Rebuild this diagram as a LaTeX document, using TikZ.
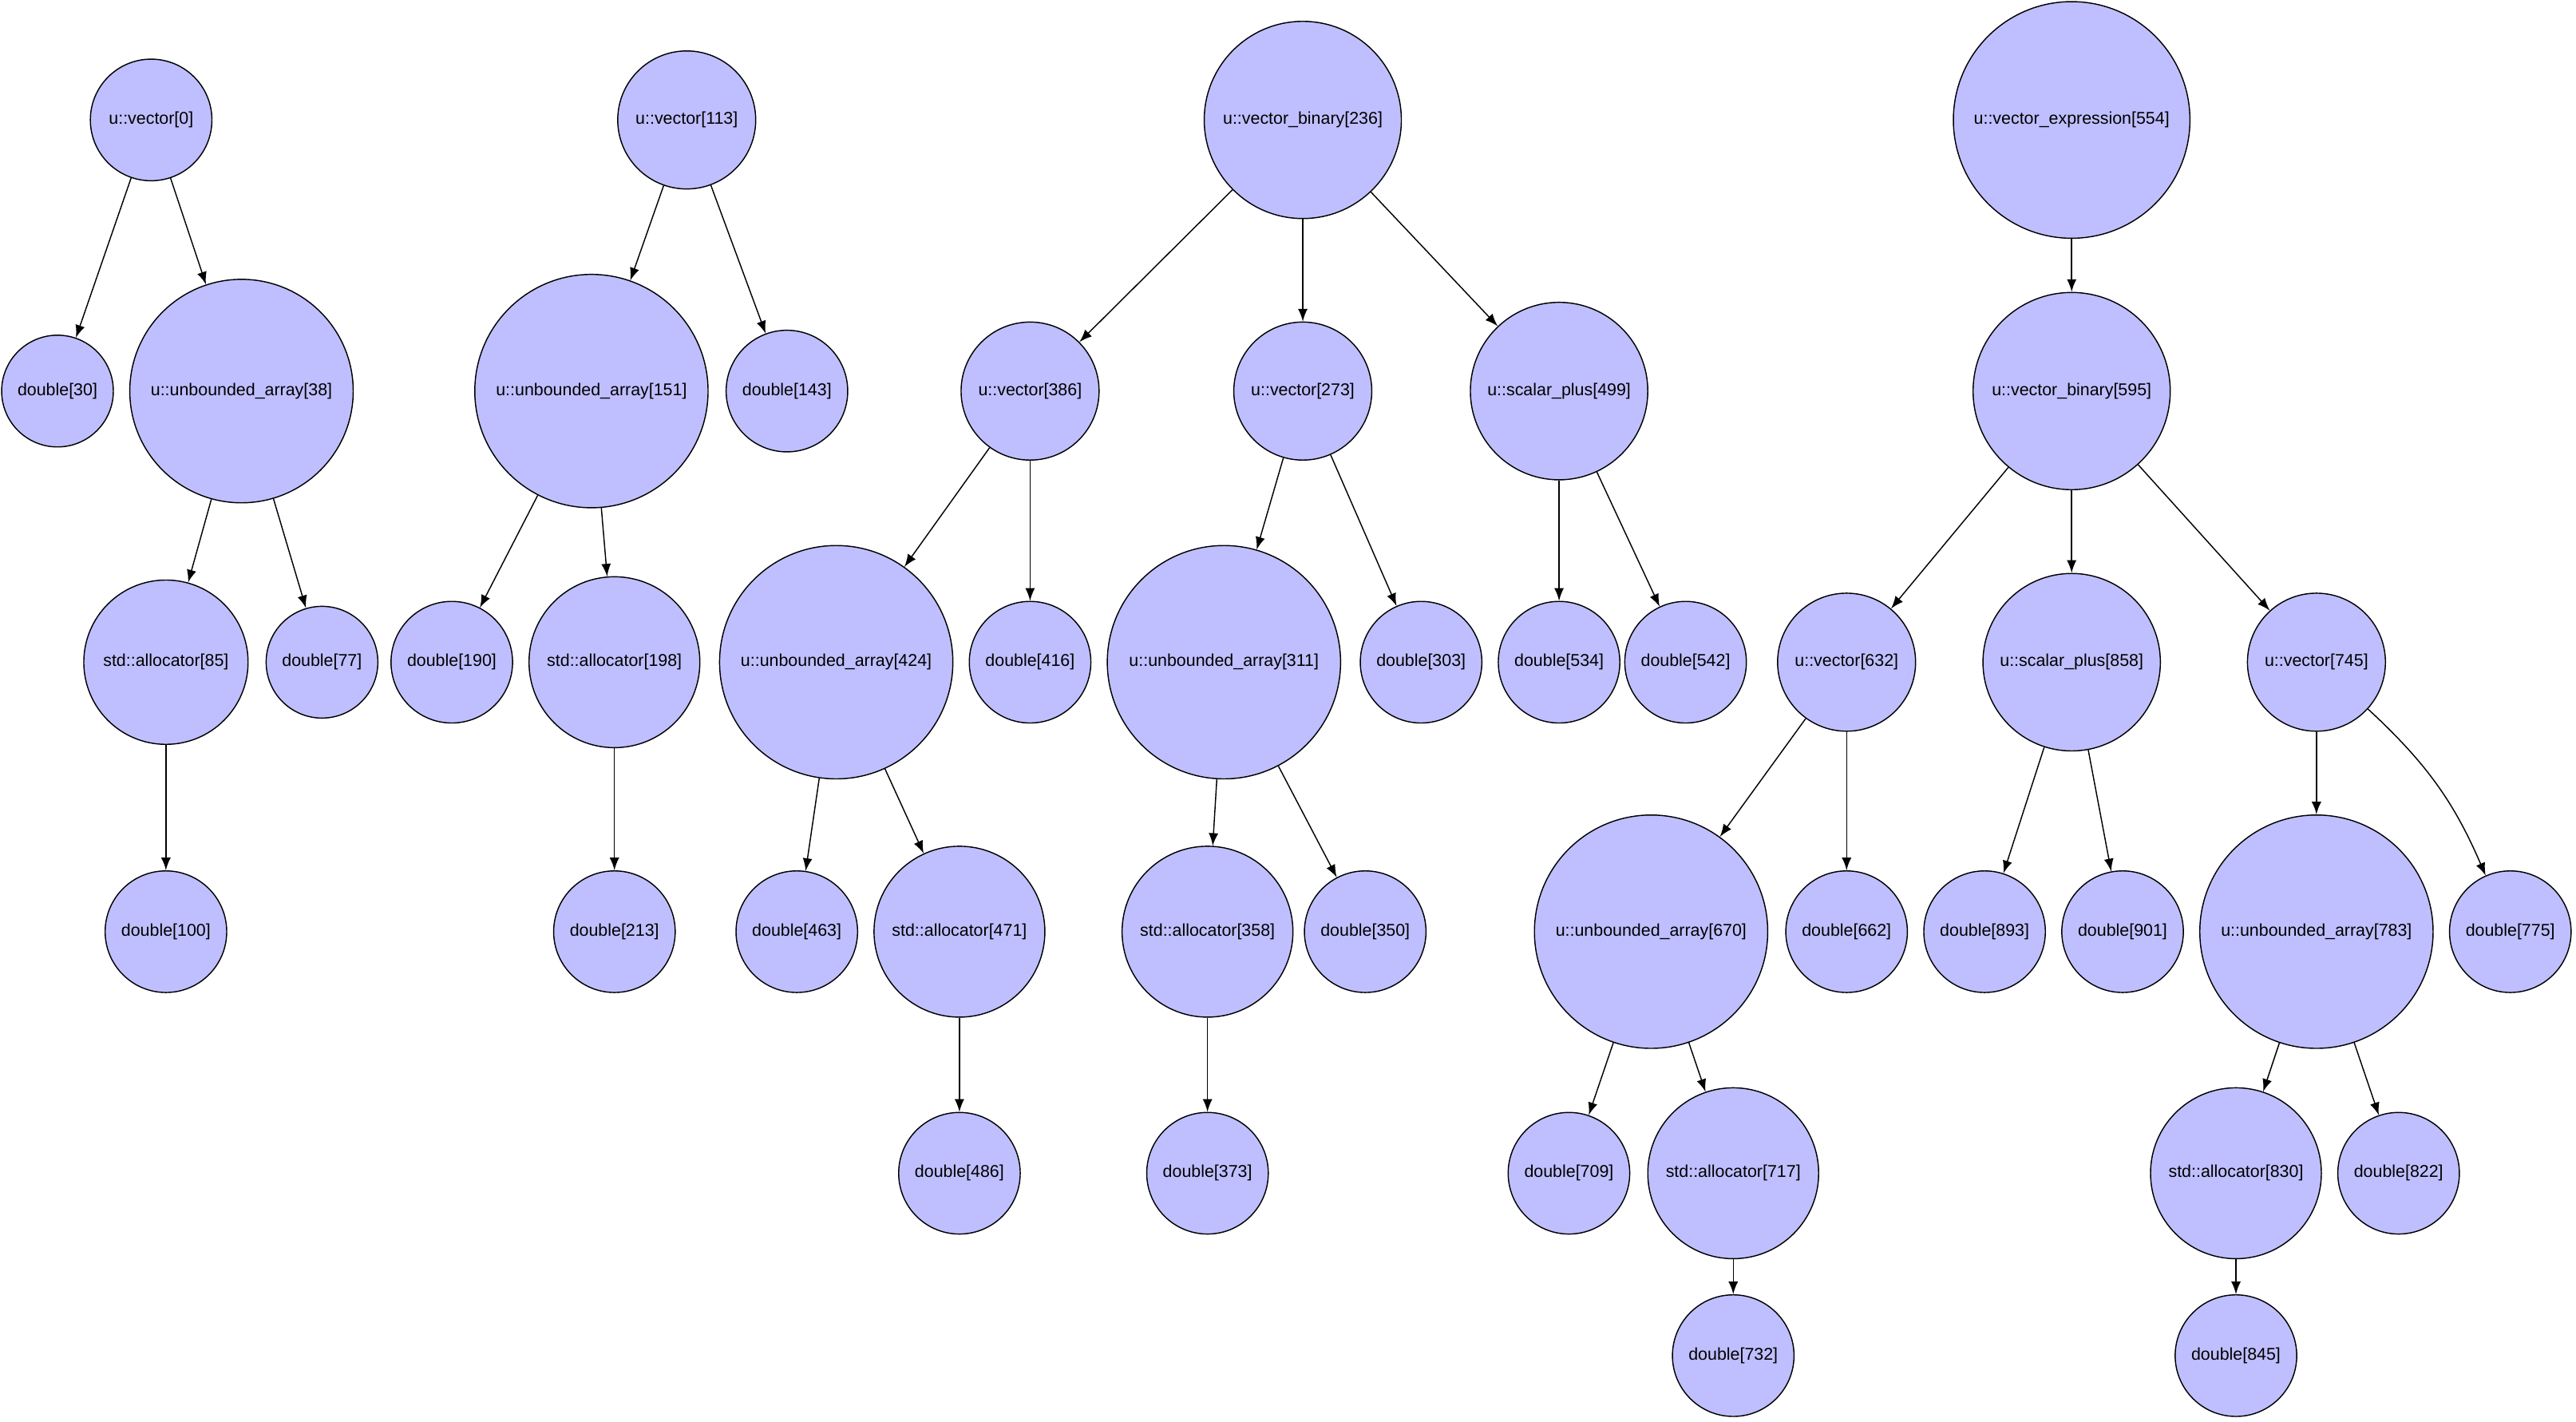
\documentclass[tikz,border=0pt]{standalone}
\usepackage{fontspec}
\setmainfont{Liberation Sans}
\begin{document}
\begin{tikzpicture}[x=0.5pt,y=-0.5pt,
  nd/.style={circle,draw=black,fill=nodefill,line width=0.35pt,inner sep=0pt,font=\fontsize{5.2}{6}\selectfont},
  ed/.style={-latex,line width=0.35pt}]
\definecolor{nodefill}{HTML}{BFBFFF}
\useasboundingbox (0,0) rectangle (1568,865);
\def\N#1#2#3#4#5{\node[nd,minimum size=#4pt] (#1) at (#2,#3) {#5};}
\N{v0}{92}{73}{37}{u::vector[0]}
\N{d30}{35}{238}{34}{double[30]}
\N{ua38}{147}{238}{68}{u::unbounded\_array[38]}
\N{sa85}{101}{403}{50}{std::allocator[85]}
\N{d77}{196}{403}{34}{double[77]}
\N{d100}{101}{567}{37}{double[100]}
\N{v113}{418}{73}{42}{u::vector[113]}
\N{ua151}{360}{238}{71}{u::unbounded\_array[151]}
\N{d143}{479}{238}{37}{double[143]}
\N{d190}{275}{403}{37}{double[190]}
\N{sa198}{374}{403}{52}{std::allocator[198]}
\N{d213}{374}{567}{37}{double[213]}
\N{vb236}{793}{73}{60}{u::vector\_binary[236]}
\N{v386}{627}{238}{42}{u::vector[386]}
\N{v273}{793}{238}{42}{u::vector[273]}
\N{sp499}{949}{238}{54}{u::scalar\_plus[499]}
\N{ua424}{509}{403}{71}{u::unbounded\_array[424]}
\N{d416}{627}{403}{37}{double[416]}
\N{ua311}{745}{403}{71}{u::unbounded\_array[311]}
\N{d303}{865}{403}{37}{double[303]}
\N{d534}{949}{403}{37}{double[534]}
\N{d542}{1026}{403}{37}{double[542]}
\N{d463}{485}{567}{37}{double[463]}
\N{sa471}{584}{567}{52}{std::allocator[471]}
\N{sa358}{735}{567}{52}{std::allocator[358]}
\N{d350}{831}{567}{37}{double[350]}
\N{d486}{584}{714}{37}{double[486]}
\N{d373}{735}{714}{37}{double[373]}
\N{ve554}{1261}{73}{72}{u::vector\_expression[554]}
\N{vb595}{1261}{238}{60}{u::vector\_binary[595]}
\N{v632}{1124}{403}{42}{u::vector[632]}
\N{sp858}{1261}{403}{54}{u::scalar\_plus[858]}
\N{v745}{1410}{403}{42}{u::vector[745]}
\N{ua670}{1005}{567}{71}{u::unbounded\_array[670]}
\N{d662}{1124}{567}{37}{double[662]}
\N{d893}{1208}{567}{37}{double[893]}
\N{d901}{1292}{567}{37}{double[901]}
\N{ua783}{1410}{567}{71}{u::unbounded\_array[783]}
\N{d775}{1528}{567}{37}{double[775]}
\N{d709}{955}{714}{37}{double[709]}
\N{sa717}{1055}{714}{52}{std::allocator[717]}
\N{sa830}{1361}{714}{52}{std::allocator[830]}
\N{d822}{1460}{714}{37}{double[822]}
\N{d732}{1055}{825}{37}{double[732]}
\N{d845}{1361}{825}{37}{double[845]}
\foreach \a/\b in {v0/d30,v0/ua38,ua38/sa85,ua38/d77,sa85/d100,
 v113/ua151,v113/d143,ua151/d190,ua151/sa198,sa198/d213,
 vb236/v386,vb236/v273,vb236/sp499,v386/ua424,v386/d416,v273/ua311,v273/d303,
 sp499/d534,sp499/d542,ua424/d463,ua424/sa471,sa471/d486,ua311/sa358,ua311/d350,sa358/d373,
 ve554/vb595,vb595/v632,vb595/sp858,vb595/v745,v632/ua670,v632/d662,sp858/d893,sp858/d901,
 v745/ua783,ua670/d709,ua670/sa717,sa717/d732,ua783/sa830,ua783/d822,sa830/d845}
 \draw[ed] (\a) -- (\b);
\draw[ed] (v745) to[bend left=12] (d775);
\end{tikzpicture}
\end{document}
